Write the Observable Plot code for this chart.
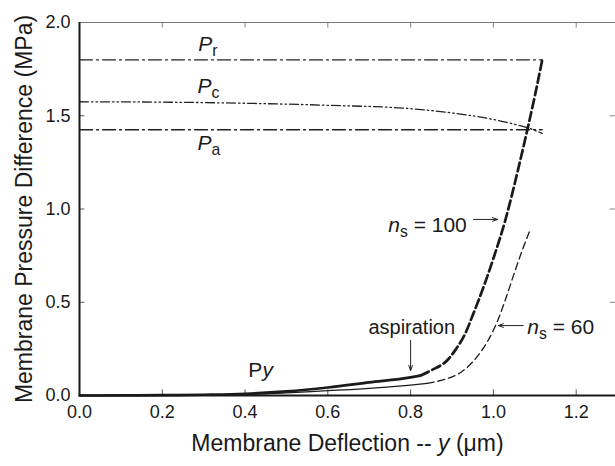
<!DOCTYPE html>
<html><head><meta charset="utf-8">
<script src="https://cdn.jsdelivr.net/npm/d3@7"></script>
<script src="https://cdn.jsdelivr.net/npm/@observablehq/plot@0.6"></script>
<style>body{margin:0;background:#fff} svg{display:block}</style>
</head><body><div id="chart"></div>
<script>
// ---- data ----
const xTicks = [0, 0.2, 0.4, 0.6, 0.8, 1.0, 1.2];
const yTicks = [0, 0.5, 1.0, 1.5, 2.0];
const xTitle = "Membrane Deflection -- *y* (\u03bcm)";
const yTitle = "Membrane Pressure Difference (MPa)";

// n_s = 100 (thick): solid up to aspiration, dashed afterwards
const n100SolidX = [0, 0.1, 0.2, 0.3, 0.4, 0.5, 0.6, 0.7, 0.8, 0.824];
const n100SolidY = [0, 0.0003, 0.0015, 0.004, 0.009, 0.022, 0.043, 0.07, 0.097, 0.107];
const n100DashX = [0.824, 0.85, 0.888, 0.91, 0.932, 0.95, 0.964, 0.98, 1.0, 1.03, 1.06, 1.082, 1.1, 1.118];
const n100DashY = [0.107, 0.135, 0.188, 0.25, 0.332, 0.43, 0.509, 0.605, 0.735, 0.95, 1.215, 1.425, 1.605, 1.80];

// n_s = 60 (thin)
const n60SolidX = [0, 0.1, 0.2, 0.3, 0.4, 0.5, 0.6, 0.655, 0.7, 0.8, 0.84];
const n60SolidY = [0, 0.0002, 0.001, 0.003, 0.006, 0.014, 0.026, 0.032, 0.038, 0.056, 0.065];
const n60DashX = [0.84, 0.88, 0.92, 0.95, 0.973, 1.0, 1.01, 1.03, 1.048, 1.07, 1.089];
const n60DashY = [0.065, 0.085, 0.122, 0.18, 0.245, 0.35, 0.40, 0.52, 0.64, 0.78, 0.89];

// reference pressures
const pcX = [0, 0.2, 0.4, 0.6, 0.8, 0.9, 1.0, 1.05, 1.1, 1.118];
const pcY = [1.575, 1.573, 1.567, 1.556, 1.538, 1.515, 1.48, 1.455, 1.422, 1.405];
const prX = [0, 1.118];
const prValue = 1.8;
const paX = [0, 1.118];
const paValue = 1.425;

// annotations
const labelText = ["*P*_r_", "*P*_c_", "*P*_a_", "P*y*", "*n*_s_ = 100", "*n*_s_ = 60", "aspiration"];
const labelX = [0.287, 0.285, 0.285, 0.408, 0.746, 1.082, 0.698];
const labelY = [1.845, 1.62, 1.314, 0.097, 0.874, 0.332, 0.332];
const labelSize = [21, 21, 21, 21, 21, 21, 20];

const arrowX1 = [0.952, 1.072, 0.8];
const arrowY1 = [0.944, 0.375, 0.295];
const arrowX2 = [1.010, 1.012, 0.8];
const arrowY2 = [0.944, 0.375, 0.134];

// ---- helpers ----
const pts = (xs, ys) => xs.map((x, i) => ({x, y: ys[i]}));
const labels = labelText.map((t, i) => ({t, x: labelX[i], y: labelY[i], s: labelSize[i]}));
const arrows = arrowX1.map((x1, i) => ({x1, y1: arrowY1[i], x2: arrowX2[i], y2: arrowY2[i]}));
const ink = "#1a1a1a";

const plot = Plot.plot({
  width: 615,
  height: 466,
  marginLeft: 79,
  marginRight: 0,
  marginTop: 22,
  marginBottom: 71,
  x: {domain: [0, 1.295]},
  y: {domain: [0, 2]},
  style: {fontFamily: "'Liberation Sans', Arial, sans-serif", fontSize: "18px", color: ink, background: "#fff", overflow: "visible"},
  marks: [
    Plot.axisX({ticks: xTicks, tickSize: 0, tickPadding: 10, tickFormat: d3.format(".1f"), label: null}),
    Plot.axisY({ticks: yTicks, tickSize: 0, tickPadding: 9, tickFormat: d3.format(".1f"), label: null}),
    // inward ticks
    Plot.ruleX(xTicks.slice(1), {x: d => d, y1: 0, y2: 0.03, stroke: "#555", strokeWidth: 1}),
    Plot.ruleX(xTicks.slice(1), {x: d => d, y1: 2, y2: 1.97, stroke: "#888", strokeWidth: 1}),
    Plot.ruleY(yTicks.slice(1, -1), {y: d => d, x1: 0, x2: 0.013, stroke: "#555", strokeWidth: 1}),
    Plot.ruleY(yTicks.slice(1, -1), {y: d => d, x1: 1.295, x2: 1.282, stroke: "#888", strokeWidth: 1}),
    // frame
    Plot.ruleY([2], {stroke: "#777", strokeWidth: 1}),
    Plot.ruleX([0], {stroke: ink, strokeWidth: 2}),
    Plot.ruleY([0], {stroke: ink, strokeWidth: 2}),
    // reference pressure lines
    Plot.line(pts(prX, prX.map(() => prValue)), {x: "x", y: "y", stroke: "#222", strokeWidth: 1.3, strokeDasharray: "13,4,2,4"}),
    Plot.line(pts(paX, paX.map(() => paValue)), {x: "x", y: "y", stroke: "#222", strokeWidth: 1.3, strokeDasharray: "13,4,2,4"}),
    Plot.line(pts(pcX, pcY), {x: "x", y: "y", stroke: "#222", strokeWidth: 1.3, strokeDasharray: "9,3,1.5,3,1.5,3", curve: "monotone-x"}),
    // curves
    Plot.line(pts(n60SolidX, n60SolidY), {x: "x", y: "y", stroke: ink, strokeWidth: 1.3, curve: "monotone-x"}),
    Plot.line(pts(n60DashX, n60DashY), {x: "x", y: "y", stroke: ink, strokeWidth: 1.3, strokeDasharray: "7,4", curve: "monotone-x"}),
    Plot.line(pts(n100SolidX, n100SolidY), {x: "x", y: "y", stroke: ink, strokeWidth: 2.7, curve: "monotone-x"}),
    Plot.line(pts(n100DashX, n100DashY), {x: "x", y: "y", stroke: ink, strokeWidth: 2.7, strokeDasharray: "9,4", curve: "monotone-x"}),
    // arrows
    Plot.arrow(arrows, {x1: "x1", y1: "y1", x2: "x2", y2: "y2", stroke: "#222", strokeWidth: 1, headLength: 8, headAngle: 40}),
    // annotations
    Plot.text(labels, {x: "x", y: "y", text: "t", fontSize: d => d.s, textAnchor: "start", lineAnchor: "bottom", fill: ink, ariaLabel: () => "rich"}),
    // axis titles
    Plot.text([xTitle], {text: d => d, frameAnchor: "bottom", dy: 48, fontSize: 23, textAnchor: "middle", lineAnchor: "middle", fill: ink, ariaLabel: () => "rich"}),
    Plot.text([yTitle], {text: d => d, frameAnchor: "left", dx: -55, rotate: -90, fontSize: 23, textAnchor: "middle", lineAnchor: "middle", fill: ink})
  ]
});

// turn *italic* and _subscript_ markup into tspans
function richify(root) {
  root.querySelectorAll("text").forEach(el => {
    const src = el.textContent;
    if (!/[*_]/.test(src)) return;
    const parts = src.match(/(\*[^*]+\*|_[^_]+_|[^*_]+)/g) || [];
    while (el.firstChild) el.removeChild(el.firstChild);
    let shifted = false;
    parts.forEach(p => {
      const ts = document.createElementNS("http://www.w3.org/2000/svg", "tspan");
      if (p.startsWith("*")) {
        ts.textContent = p.slice(1, -1);
        ts.setAttribute("font-style", "italic");
        if (shifted) { ts.setAttribute("dy", "-5"); shifted = false; }
      } else if (p.startsWith("_")) {
        ts.textContent = p.slice(1, -1);
        ts.setAttribute("font-size", "75%");
        ts.setAttribute("dy", "5");
        shifted = true;
      } else {
        ts.textContent = p;
        if (shifted) { ts.setAttribute("dy", "-5"); shifted = false; }
      }
      el.appendChild(ts);
    });
  });
}
richify(plot);
document.getElementById("chart").appendChild(plot);
</script>
</body></html>
